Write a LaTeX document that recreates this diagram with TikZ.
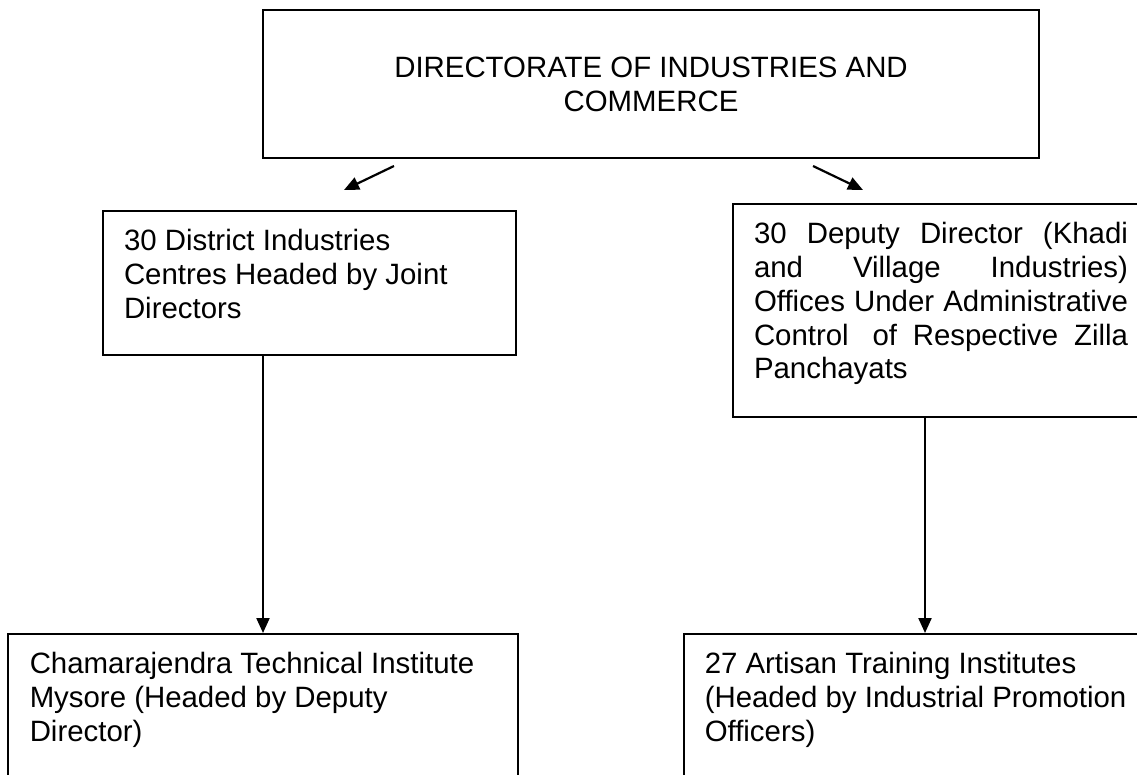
\documentclass[tikz,border=0pt]{standalone}
\usepackage{fontspec}
\setmainfont{Liberation Sans}
\usetikzlibrary{arrows.meta}
\newcommand{\boxtxt}[3]{\parbox[t][#2][t]{#1}{\vspace*{16pt}#3}}
\newcommand{\jline}[1]{\hbox to \linewidth{\strut #1}}
\begin{document}
\begin{tikzpicture}[x=1pt,y=-1pt,
  every node/.style={font=\fontsize{29.4pt}{33.8pt}\selectfont},
  orgbox/.style={draw=black, line width=2pt, inner xsep=21pt, inner ysep=0pt, anchor=north west},
  lowbox/.style={orgbox, line width=1.5pt},
  link/.style={line width=2.2pt, -{Triangle[length=15pt,width=13pt]}}]
\useasboundingbox (0,0) rectangle (1137,774);
\clip (0,0) rectangle (1137,774);
\fill[white] (0,0) rectangle (1137,774);

\node[draw=black, line width=2.2pt, inner sep=0pt, minimum width=776pt, minimum height=148pt, align=center] (dir) at (651,84)
  {DIRECTORATE OF INDUSTRIES AND\\COMMERCE};

\node[orgbox] (dic) at (102,210)
  {\boxtxt{371pt}{144pt}{\strut 30 District Industries\\Centres Headed by Joint\\Directors}};

\node[orgbox] (kvi) at (732,203)
  {\boxtxt{374pt}{213pt}{%
    \jline{30\hfill Deputy\hfill Director\hfill (Khadi}%
    \jline{and\hfill Village\hfill Industries)}%
    \jline{Offices\hfill Under\hfill Administrative}%
    \jline{Control\hspace{8pt}\hfill of\hfill Respective\hfill Zilla}%
    \jline{Panchayats\hfill}}};

\node[lowbox, inner xsep=22pt] (cti) at (7,633)
  {\boxtxt{466pt}{170pt}{\strut Chamarajendra Technical Institute\\Mysore (Headed by Deputy\\Director)}};

\node[lowbox] (ati) at (683,633)
  {\boxtxt{440pt}{170pt}{\strut 27 Artisan Training Institutes\\(Headed by Industrial Promotion\\Officers)}};

\coordinate (la1) at (394,166);
\coordinate (la2) at (344,190);
\coordinate (ra1) at (813,166);
\coordinate (ra2) at (863,190);
\coordinate (lx) at (263,0);
\coordinate (rx) at (925,0);

\draw[link] (la1) -- (la2);
\draw[link] (ra1) -- (ra2);
\draw[link] (dic.south -| lx) -- (cti.north -| lx);
\draw[link] (kvi.south -| rx) -- (ati.north -| rx);
\end{tikzpicture}
\end{document}
